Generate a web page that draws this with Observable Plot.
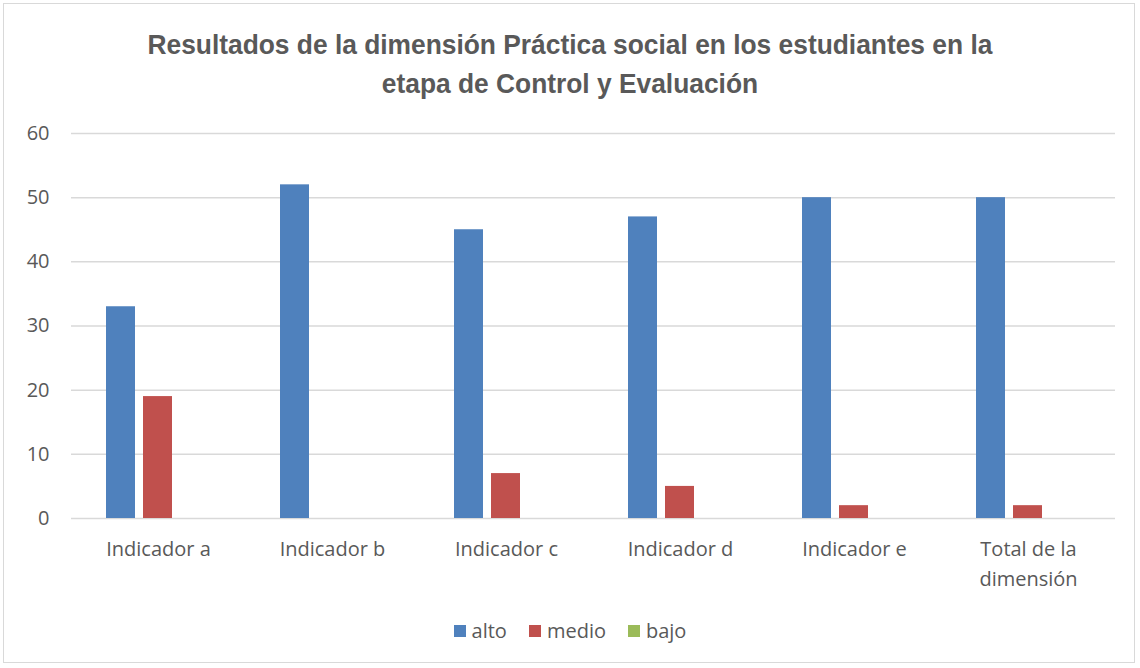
<!DOCTYPE html>
<html>
<head>
<meta charset="utf-8">
<script src="https://cdn.jsdelivr.net/npm/d3@7"></script>
<script src="https://cdn.jsdelivr.net/npm/@observablehq/plot@0.6"></script>
<style>
  html, body { margin: 0; padding: 0; background: #fff; }
  #frame { position: absolute; left: 3px; top: 3px; width: 1132px; height: 660px; border: 1.5px solid #d9d9d9; box-sizing: border-box; }
  #title { position: absolute; left: 0; top: 25px; width: 1140px; text-align: center; font-family: "Liberation Sans", Arial, sans-serif; font-weight: bold; font-size: 28px; line-height: 39px; color: #595959; }
  #title span { display: inline-block; white-space: nowrap; transform-origin: center; }
  #chart { position: absolute; left: 0; top: 110px; }
  #legend { position: absolute; left: 0; top: 617px; width: 1140px; display: flex; justify-content: center; gap: 22px; font-family: "Open Sans", sans-serif; font-size: 20px; color: #595959; }
  .item { display: flex; align-items: center; gap: 6px; }
  .sw { width: 12px; height: 12px; display: inline-block; }
</style>
</head>
<body>
<div id="frame"></div>
<div id="title"><span id="t1">Resultados de la dimensión Práctica social en los estudiantes en la</span><br><span id="t2">etapa de Control y Evaluación</span></div>
<div id="chart"></div>
<div id="legend"></div>
<script>
const categories = ["Indicador a", "Indicador b", "Indicador c", "Indicador d", "Indicador e", "Total de la dimensión"];
const tickLabels = ["Indicador a", "Indicador b", "Indicador c", "Indicador d", "Indicador e", "Total de la\ndimensión"];
const series = ["alto", "medio", "bajo"];
const alto = [33, 52, 45, 47, 50, 50];
const medio = [19, 0, 7, 5, 2, 2];
const bajo = [0, 0, 0, 0, 0, 0];
const colors = ["#4F81BD", "#C0504D", "#9BBB59"];
const yTicks = [0, 10, 20, 30, 40, 50, 60];

const valuesBySeries = {alto, medio, bajo};
const data = [];
categories.forEach((c, i) => series.forEach(s => data.push({cat: c, serie: s, value: valuesBySeries[s][i]})));
const labelOf = new Map(categories.map((c, i) => [c, tickLabels[i]]));

const chart = Plot.plot({
  width: 1140,
  height: 500,
  marginLeft: 70,
  marginRight: 25,
  marginTop: 23,
  marginBottom: 92,
  style: {fontFamily: "'Open Sans', sans-serif", fontSize: "20px", color: "#595959", background: "transparent"},
  fx: {domain: categories, padding: 0, label: null, axis: null},
  x: {domain: series, axis: null, paddingInner: 0.21, paddingOuter: 0.9},
  y: {domain: [0, 60], label: null, axis: null},
  color: {domain: series, range: colors},
  marks: [
    Plot.gridY(yTicks, {stroke: "#d9d9d9", strokeOpacity: 1, strokeWidth: 1.5}),
    Plot.axisY(yTicks, {tickSize: 0, tickPadding: 22, label: null, fill: "#595959", fontSize: 20}),
    Plot.barY(data, {fx: "cat", x: "serie", y: "value", fill: "serie"}),
    Plot.axisFx({anchor: "bottom", tickSize: 0, tickPadding: 16, label: null, tickFormat: d => labelOf.get(d), fill: "#595959", fontSize: 20, lineHeight: 1.5})
  ]
});
document.getElementById("chart").appendChild(chart);

// condense title lines horizontally to match reference widths
const t1 = document.getElementById("t1"), t2 = document.getElementById("t2");
const s = 845 / t1.offsetWidth;
t1.style.transform = `scaleX(${s})`;
t2.style.transform = `scaleX(${s})`;

const legend = document.getElementById("legend");
series.forEach((sr, i) => {
  const it = document.createElement("div");
  it.className = "item";
  it.innerHTML = `<span class="sw" style="background:${colors[i]}"></span><span>${sr}</span>`;
  legend.appendChild(it);
});
</script>
</body>
</html>
